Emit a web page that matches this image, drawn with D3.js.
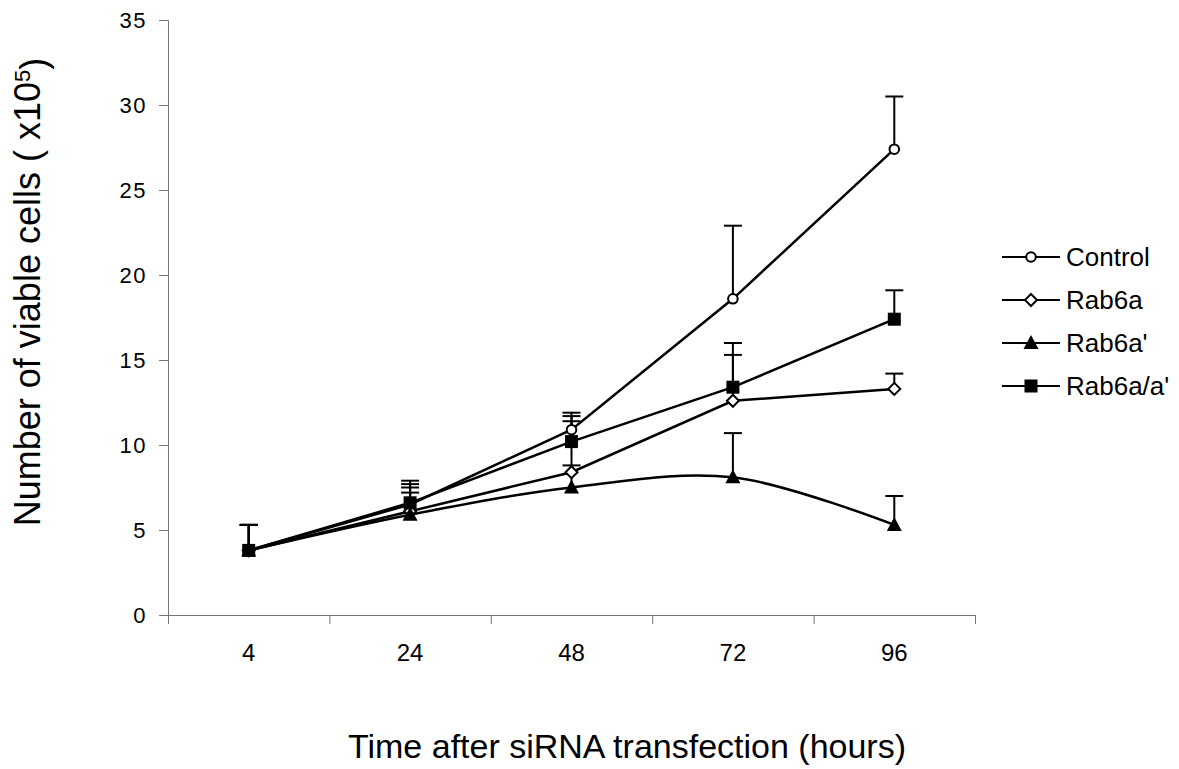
<!DOCTYPE html>
<html>
<head>
<meta charset="utf-8">
<script src="https://cdn.jsdelivr.net/npm/d3@7"></script>
<style>
  body { margin: 0; background: #fff; }
  svg { display: block; font-family: "Liberation Sans", Arial, sans-serif; }
</style>
</head>
<body>
<svg id="chart" width="1179" height="769"></svg>
<script>
// time points (hours after transfection)
const hours = ['4', '24', '48', '72', '96'];
const yTicks = [0, 5, 10, 15, 20, 25, 30, 35];

// viable cells (x10^5) and error (upper bar only)
const control = [3.8, 6.5, 10.9, 18.6, 27.4];
const controlErr = [1.5, 1.4, 1.0, 4.3, 3.1];
const rab6a = [3.8, 6.1, 8.4, 12.6, 13.3];
const rab6aErr = [1.5, 1.4, 3.0, 2.7, 0.9];
const rab6aPrime = [3.8, 5.9, 7.5, 8.1, 5.3];
const rab6aPrimeErr = [1.5, 1.3, 1.3, 2.6, 1.7];
const rab6aBoth = [3.8, 6.6, 10.2, 13.4, 17.4];
const rab6aBothErr = [1.5, 1.1, 1.5, 2.6, 1.7];

const series = [
  { name: 'Control', values: control, err: controlErr, marker: 'circle', smooth: false },
  { name: 'Rab6a', values: rab6a, err: rab6aErr, marker: 'diamond', smooth: false },
  { name: "Rab6a'", values: rab6aPrime, err: rab6aPrimeErr, marker: 'triangle', smooth: true },
  { name: "Rab6a/a'", values: rab6aBoth, err: rab6aBothErr, marker: 'square', smooth: false }
];

const svg = d3.select('#chart');
const plotLeft = 168, plotRight = 975, plotTop = 20, plotBottom = 615;

const x = d3.scaleBand().domain(hours).range([plotLeft, plotRight]);
const y = d3.scaleLinear().domain([0, 35]).range([plotBottom, plotTop]);
const cx = h => x(h) + x.bandwidth() / 2;

// axes
const axisColor = '#777';
const xAxis = svg.append('g')
  .attr('transform', `translate(0,${plotBottom})`)
  .call(d3.axisBottom(x).tickSize(0).tickFormat(''));
xAxis.select('.domain').attr('stroke', axisColor).attr('d', `M${plotLeft},0.5H${plotRight}`);
// band boundary ticks, like the original
svg.append('g').selectAll('line')
  .data(d3.range(hours.length + 1))
  .enter().append('line')
  .attr('x1', i => plotLeft + i * x.bandwidth() + 0.5)
  .attr('x2', i => plotLeft + i * x.bandwidth() + 0.5)
  .attr('y1', plotBottom)
  .attr('y2', plotBottom + 9)
  .attr('stroke', axisColor);
svg.append('g').selectAll('text')
  .data(hours)
  .enter().append('text')
  .attr('x', d => cx(d))
  .attr('y', 661)
  .attr('text-anchor', 'middle')
  .style('font-size', '24px')
  .text(d => d);

const yAxis = svg.append('g')
  .attr('transform', `translate(${plotLeft},0)`)
  .call(d3.axisLeft(y).tickValues(yTicks).tickSize(9).tickPadding(12));
yAxis.select('.domain').attr('stroke', axisColor);
yAxis.selectAll('.tick line').attr('stroke', axisColor);
yAxis.selectAll('.tick text')
  .attr('fill', '#000')
  .style('font-size', '22px')
  .style('letter-spacing', '1.5px')
  .style('font-family', '"Liberation Sans", Arial, sans-serif');

// axis titles
const yTitle = svg.append('text')
  .attr('transform', 'translate(40,292) rotate(-90)')
  .attr('text-anchor', 'middle')
  .style('font-size', '36px');
yTitle.append('tspan').text('Number of viable cells ( x10');
yTitle.append('tspan').attr('dy', '-0.45em').style('font-size', '22px').text('5');
yTitle.append('tspan').attr('dy', '0.45em').text(')');

svg.append('text')
  .attr('x', 627)
  .attr('y', 758)
  .attr('text-anchor', 'middle')
  .style('font-size', '34px')
  .text('Time after siRNA transfection (hours)');

// markers
function drawMarker(g, type, px, py) {
  if (type === 'circle') {
    g.append('circle').attr('cx', px).attr('cy', py).attr('r', 4.8)
      .attr('fill', '#fff').attr('stroke', '#000').attr('stroke-width', 2);
  } else if (type === 'diamond') {
    g.append('path').attr('d', `M${px},${py - 6}L${px + 6},${py}L${px},${py + 6}L${px - 6},${py}Z`)
      .attr('fill', '#fff').attr('stroke', '#000').attr('stroke-width', 2);
  } else if (type === 'triangle') {
    g.append('path').attr('d', `M${px},${py - 8}L${px + 7.5},${py + 6}L${px - 7.5},${py + 6}Z`)
      .attr('fill', '#000');
  } else {
    g.append('rect').attr('x', px - 6.5).attr('y', py - 6.5).attr('width', 13).attr('height', 13)
      .attr('fill', '#000');
  }
}

const plot = svg.append('g');

// error bars (upper only)
series.forEach(s => {
  const eb = plot.append('g').attr('stroke', '#000').attr('stroke-width', 2);
  hours.forEach((h, i) => {
    const capY = y(s.values[i] + s.err[i]);
    eb.append('line').attr('x1', cx(h)).attr('x2', cx(h))
      .attr('y1', y(s.values[i])).attr('y2', capY);
    eb.append('line').attr('x1', cx(h) - 9).attr('x2', cx(h) + 9)
      .attr('y1', capY).attr('y2', capY);
  });
});

// lines
series.forEach(s => {
  const line = d3.line()
    .x((d, i) => cx(hours[i]))
    .y(d => y(d))
    .curve(s.smooth ? d3.curveCatmullRom.alpha(0) : d3.curveLinear);
  plot.append('path')
    .datum(s.values)
    .attr('d', line)
    .attr('fill', 'none')
    .attr('stroke', '#000')
    .attr('stroke-width', 2.5);
});

// point markers
series.forEach(s => {
  const g = plot.append('g');
  s.values.forEach((v, i) => drawMarker(g, s.marker, cx(hours[i]), y(v)));
});

// legend
const legend = svg.append('g');
series.forEach((s, i) => {
  const ly = 257 + i * 43;
  legend.append('line')
    .attr('x1', 1002).attr('x2', 1060)
    .attr('y1', ly).attr('y2', ly)
    .attr('stroke', '#000').attr('stroke-width', 2);
  drawMarker(legend, s.marker, 1031, ly);
  legend.append('text')
    .attr('x', 1066)
    .attr('y', ly)
    .attr('dy', '0.36em')
    .style('font-size', '26px')
    .text(s.name);
});
</script>
</body>
</html>
